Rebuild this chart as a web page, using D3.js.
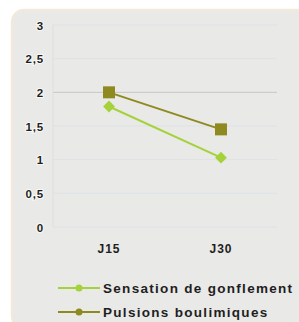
<!DOCTYPE html>
<html><head><meta charset="utf-8">
<script src="https://cdn.jsdelivr.net/npm/d3@7"></script>
<style>
html,body{margin:0;padding:0;background:#fff;}
text{font-family:"Liberation Sans",Arial,sans-serif;font-weight:bold;fill:#1e1e1e;}
</style></head>
<body><svg id="c" width="299" height="322"></svg>
<script>
const categories = ["J15","J30"];
const sensation = [1.79, 1.03];
const pulsions = [2.0, 1.45];
const seriesNames = ["Sensation de gonflement","Pulsions boulimiques"];
const yTicks = [0,0.5,1,1.5,2,2.5,3];
const yTickLabels = ["0","0,5","1","1,5","2","2,5","3"];
const colors = ["#a5d23a","#8e8a20"];

const svg = d3.select("#c");
svg.append("rect").attr("x",12).attr("y",10).attr("width",300).attr("height",318)
  .attr("rx",12).attr("fill","#e9e9e8").attr("stroke","#f1eadb").attr("stroke-width",2.5);

const x = d3.scaleBand().domain(categories).range([53,277]);
const y = d3.scaleLinear().domain([0,3]).range([227,25]);

const g = svg.append("g");
g.selectAll("line.grid").data(yTicks).join("line")
  .attr("x1",53).attr("x2",277).attr("y1",d=>y(d)).attr("y2",d=>y(d))
  .attr("stroke",d=>d===2?"#c9c6c0":"#dde2e4").attr("stroke-width",1);
g.append("line").attr("x1",53).attr("x2",53).attr("y1",y(3)).attr("y2",y(0)).attr("stroke","#dedede");

const yAxis = d3.axisLeft(y).tickValues(yTicks).tickFormat((d,i)=>yTickLabels[i]).tickSize(0).tickPadding(9);
const ya = svg.append("g").attr("transform","translate(53,0)").call(yAxis);
ya.select(".domain").remove();
ya.selectAll("text").attr("font-size",11.5).attr("font-family","Liberation Sans,Arial,sans-serif")
  .attr("font-weight","bold").attr("fill","#1e1e1e").attr("dy","0.35em").attr("letter-spacing",0.8)
  .attr("stroke","#fff").attr("stroke-width",2).attr("paint-order","stroke").attr("stroke-opacity",0.7);

const xAxis = d3.axisBottom(x).tickSize(0).tickPadding(17);
const xa = svg.append("g").attr("transform",`translate(0,${y(0)})`).call(xAxis);
xa.select(".domain").remove();
xa.selectAll("text").attr("font-size",12).attr("font-family","Liberation Sans,Arial,sans-serif")
  .attr("font-weight","bold").attr("fill","#1e1e1e").attr("letter-spacing",1);

const cx = d => x(d)+x.bandwidth()/2;
const line = d3.line().x((d,i)=>cx(categories[i])).y(d=>y(d));

[[sensation,0],[pulsions,1]].forEach(([vals,k])=>{
  svg.append("path").datum(vals).attr("d",line).attr("fill","none")
    .attr("stroke",colors[k]).attr("stroke-width",2);
});
svg.selectAll("rect.diam").data(sensation).join("rect")
  .attr("x",-4.2).attr("y",-4.2).attr("width",8.4).attr("height",8.4)
  .attr("transform",(d,i)=>`translate(${cx(categories[i])},${y(d)}) rotate(45)`).attr("fill",colors[0]);
svg.selectAll("rect.sq").data(pulsions).join("rect")
  .attr("x",(d,i)=>cx(categories[i])-6).attr("y",d=>y(d)-6).attr("width",12).attr("height",12)
  .attr("fill",colors[1]);

const leg = svg.append("g");
seriesNames.forEach((n,i)=>{
  const ly = 288 + i*24;
  leg.append("line").attr("x1",58).attr("x2",100).attr("y1",ly).attr("y2",ly).attr("stroke",colors[i]).attr("stroke-width",2);
  leg.append("circle").attr("cx",79).attr("cy",ly).attr("r",3.5).attr("fill",colors[i]);
  leg.append("text").attr("x",103).attr("y",ly).attr("dy","0.36em").attr("font-size",13.5)
    .attr("letter-spacing",1.3).text(n);
});
</script></body></html>
